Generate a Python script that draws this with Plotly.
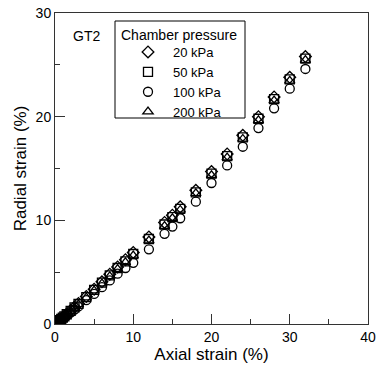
import plotly.graph_objects as go

axial = [0, 0.1, 0.2, 0.3, 0.4, 0.5, 0.6, 0.8, 1.0, 1.2, 1.5, 2.0, 2.5, 3, 4, 5, 6, 7, 8, 9,
         10, 12, 14, 15, 16, 18, 20, 22, 24, 26, 28, 30, 32]

radial_20 = [0, 0.06, 0.12, 0.18, 0.25, 0.31, 0.37, 0.5, 0.63, 0.76, 0.96, 1.3, 1.63, 1.98, 2.66,
             3.36, 4.07, 4.8, 5.5, 6.2, 6.9, 8.4, 9.8, 10.5, 11.3, 12.9, 14.7, 16.4, 18.2, 20.0,
             21.9, 23.8, 25.8]
radial_50 = [0, 0.06, 0.12, 0.18, 0.24, 0.3, 0.36, 0.49, 0.61, 0.74, 0.94, 1.27, 1.6, 1.94, 2.6,
             3.3, 4.0, 4.7, 5.4, 6.05, 6.75, 8.2, 9.6, 10.3, 11.1, 12.7, 14.5, 16.2, 18.0, 19.8,
             21.7, 23.6, 25.6]
radial_100 = [0, 0.05, 0.1, 0.15, 0.2, 0.26, 0.31, 0.42, 0.53, 0.64, 0.82, 1.1, 1.4, 1.7, 2.3,
              2.9, 3.55, 4.2, 4.85, 5.4, 5.9, 7.2, 8.7, 9.4, 10.2, 11.8, 13.6, 15.3, 17.1, 18.9,
              20.8, 22.7, 24.6]
radial_200 = [0, 0.06, 0.11, 0.17, 0.23, 0.29, 0.35, 0.47, 0.6, 0.72, 0.91, 1.23, 1.56, 1.9, 2.55,
              3.22, 3.9, 4.6, 5.3, 5.95, 6.6, 8.05, 9.45, 10.2, 11.0, 12.6, 14.35, 16.05, 17.85,
              19.65, 21.55, 23.45, 25.45]

labels = ["20 kPa", "50 kPa", "100 kPa", "200 kPa"]
symbols = ["diamond-open", "square-open", "circle-open", "triangle-up-open"]
series = [radial_20, radial_50, radial_100, radial_200]
legend_title = "Chamber pressure"
panel_label = "GT2"

# plot-area pixel geometry (for placing the legend box / labels in paper coords)
L, R, T, B = 55, 368, 13, 324
def px(x):
    return (x - L) / (R - L)
def py(y):
    return (B - y) / (B - T)

fig = go.Figure()
for lab, sym, ys in zip(labels, symbols, series):
    fig.add_trace(go.Scatter(
        x=axial, y=ys, mode="markers", name=lab,
        marker=dict(symbol=sym, size=9, color="black", line=dict(color="black", width=1.3)),
    ))

font = "Arial, 'Liberation Sans', sans-serif"
annotations = [
    dict(text=panel_label, x=px(86), y=py(36), xanchor="center", yanchor="middle"),
    dict(text=legend_title, x=px(119), y=py(35), xanchor="left", yanchor="middle"),
]
for a in annotations:
    a.update(xref="paper", yref="paper", showarrow=False, font=dict(size=14))

fig.update_layout(
    width=387, height=369,
    margin=dict(l=L, r=387 - R, t=T, b=369 - B, autoexpand=False),
    plot_bgcolor="white", paper_bgcolor="white",
    font=dict(family=font, size=14, color="black"),
    showlegend=True,
    legend=dict(
        x=px(123), y=py(37), xanchor="left", yanchor="top",
        bgcolor="rgba(0,0,0,0)", borderwidth=0,
        font=dict(size=13, color="black"), itemwidth=40, tracegroupgap=0,
    ),
    shapes=[dict(type="rect", xref="paper", yref="paper",
                 x0=px(115), x1=px(245), y0=py(118), y1=py(21),
                 line=dict(color="black", width=1), fillcolor="white", layer="below")],
    annotations=annotations,
)
fig.update_xaxes(
    range=[0, 40], tickvals=[0, 10, 20, 30, 40], automargin=False,
    ticks="inside", ticklen=10, tickwidth=1, tickcolor="#333",
    minor=dict(tickvals=[5, 15, 25, 35], ticks="inside", ticklen=5, tickcolor="#333"),
    showline=True, linecolor="#333", linewidth=1, mirror=True,
    showgrid=False, zeroline=False,
    title=dict(text="Axial strain (%)", font=dict(size=17), standoff=2),
    tickfont=dict(size=14),
)
fig.update_yaxes(
    range=[0, 30], tickvals=[0, 10, 20, 30], automargin=False,
    ticks="inside", ticklen=10, tickwidth=1, tickcolor="#333",
    minor=dict(tickvals=[5, 15, 25], ticks="inside", ticklen=5, tickcolor="#333"),
    showline=True, linecolor="#333", linewidth=1, mirror=True,
    showgrid=False, zeroline=False,
    title=dict(text="Radial strain (%)", font=dict(size=17), standoff=4),
    tickfont=dict(size=14),
)
fig.write_html("out.html")
